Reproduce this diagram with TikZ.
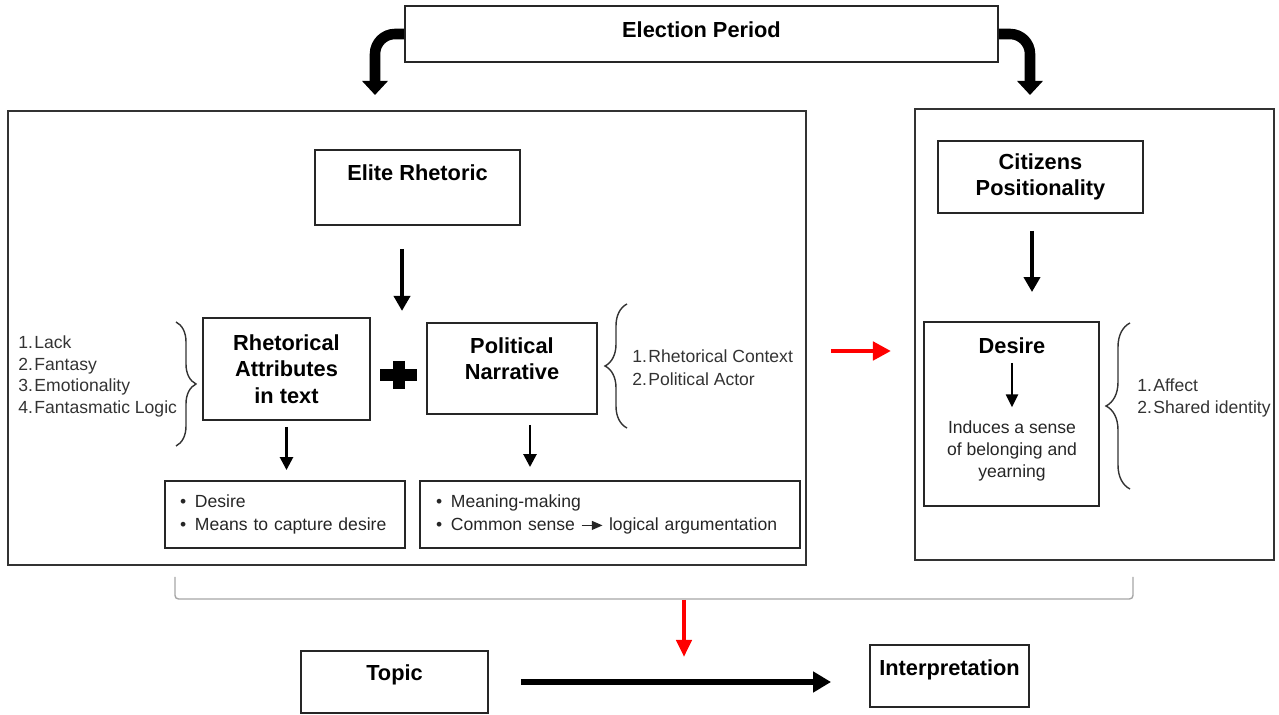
\documentclass[tikz,border=0pt]{standalone}
\usepackage{fontspec}
\setmainfont{Liberation Sans}
\usetikzlibrary{positioning, arrows.meta, decorations.pathreplacing}

\tikzset{
    box/.style={draw=black!85, line width=1.1pt, inner sep=0pt},
    frame/.style={draw=black!80, line width=1.2pt, inner sep=0pt},
    title/.style={font=\fontsize{12.4}{15}\selectfont\bfseries, align=center},
    body/.style={font=\fontsize{10}{12.3}\selectfont, text=black!80, inner sep=0pt},
    bigarr/.style={line width=2.6pt, -{Triangle[width=0.32cm, length=0.3cm]}},
    smallarr/.style={line width=1.5pt, -{Triangle[width=0.26cm, length=0.26cm]}},
    fatarr/.style={line width=6pt, rounded corners=0.4cm, -{Triangle[width=0.5cm, length=0.28cm]}},
    redarr/.style={red, line width=2.8pt, -{Triangle[width=0.36cm, length=0.36cm]}},
    curly/.style={decorate, decoration={brace, amplitude=#1}, line width=0.8pt, black!80},
}

\begin{document}
\begin{tikzpicture}[x=0.02cm, y=-0.02cm]
    \useasboundingbox (0,0) rectangle (1279,715);

    %% Frames
    \node[frame, minimum width=15.96cm, minimum height=9.08cm] (leftframe) at (407,338) {};
    \node[frame, minimum width=7.18cm, minimum height=9.02cm] (rightframe) at (1094.5,334.5) {};

    %% Top
    \node[box, title, minimum width=11.86cm, text height=0.64cm, text depth=0.48cm, anchor=base] (election) at (701.5,38) {Election Period};
    \coordinate (lefttip) at (375,95);
    \coordinate (righttip) at (1030,95);
    \draw[fatarr] (election.west) -| (lefttip);
    \draw[fatarr] (election.east) -| (righttip);

    %% Elite rhetoric side
    % Boxes
    \node[box, title, minimum width=4.1cm, text height=0.62cm, text depth=0.88cm, anchor=base] (elite) at (417.5,181) {Elite Rhetoric};
    \node[box, title, minimum width=3.34cm, minimum height=2.04cm] (rhet) at (286.5,369) {Rhetorical\\Attributes\\in text};
    \node[box, title, minimum width=3.4cm, text height=1.14cm, text depth=0.68cm, anchor=base] (polit) at (512,380) {Political\\Narrative};
    \node[box, font=\fontsize{10}{13.6}\selectfont, text=black!85, text width=4.2cm, inner xsep=0.3cm, minimum height=1.34cm, align=left] (leftbul) at (285,514.5)
        {\textbullet\hspace{5pt}Desire\\\textbullet\hspace{5pt}Means to capture desire};
    \node[box, font=\fontsize{10}{13.6}\selectfont, text=black!85, text width=6.96cm, inner xsep=0.32cm, minimum height=1.34cm, align=left] (rightbul) at (610,514.5)
        {\textbullet\hspace{5pt}Meaning-making\\\textbullet\hspace{5pt}Common sense \tikz[baseline=-0.6ex, x=1cm, y=1cm]\draw[line width=0.8pt, -{Triangle[width=5pt, length=6pt]}] (0,0) -- (0.42,0); logical argumentation};

    % Plus
    \draw[line width=0.24cm] (380,375) -- (417,375) (398.5,361) -- (398.5,389);

    % Lists
    \node[body, anchor=north west, align=left] (attrlist) at (18,335.5) {1.\kern0.8pt Lack\\2.\kern0.8pt Fantasy\\3.\kern0.8pt Emotionality\\4.\kern0.8pt Fantasmatic Logic};
    \node[body, font=\fontsize{10}{13}\selectfont, anchor=north west, align=left] (narrlist) at (632,349.5) {1.\kern0.8pt Rhetorical Context\\2.\kern0.8pt Political Actor};
    \draw[curly=0.4cm] (176,322) -- (176,446);
    \draw[curly=0.44cm] (627,428) -- (627,304);

    % Arrows
    \draw[bigarr] ([xshift=-0.31cm, yshift=-0.46cm]elite.south) -- ([xshift=-0.31cm, yshift=-1.7cm]elite.south);
    \draw[smallarr, shorten <=0.12cm, shorten >=0.2cm] (rhet.south) -- (rhet.south |- leftbul.north);
    \draw[smallarr, shorten <=0.2cm, shorten >=0.26cm] ([xshift=0.36cm]polit.south) -- ([xshift=0.36cm]polit.south |- rightbul.north);

    %% Citizens side
    \node[box, title, minimum width=4.1cm, minimum height=1.44cm] (citizens) at (1040.5,177) {Citizens\\Positionality};
    \node[box, minimum width=3.5cm, minimum height=3.68cm] (desire) at (1011.5,414) {};
    \node[title, inner sep=0pt] (desiretitle) at (1012,346) {Desire};
    \node[body, align=center, text=black!85] (desirebody) at (1012,451) {Induces a sense\\of belonging and\\yearning};
    \node[body, font=\fontsize{10}{12.5}\selectfont, anchor=north west, align=left] (affectlist) at (1137,378.5) {1.\kern0.8pt Affect\\2.\kern0.8pt Shared identity};
    \draw[curly=0.48cm] (1130,489) -- (1130,323);

    \draw[bigarr, shorten <=0.34cm, shorten >=0.58cm] ([xshift=-0.17cm]citizens.south) -- ([xshift=-0.17cm]citizens.south |- desire.north);
    \draw[line width=1.3pt, -{Triangle[width=0.24cm, length=0.26cm]}, shorten <=0.17cm, shorten >=0.27cm] (desiretitle) -- (desirebody);

    % Red link
    \draw[redarr, shorten <=0.48cm, shorten >=0.46cm] ([yshift=-0.26cm]leftframe.east) -- ([yshift=-0.26cm]leftframe.east -| rightframe.west);

    %% Bottom
    \draw[gray!70, line width=0.8pt, rounded corners=2pt] (175,577) |- (1133,599) -- (1133,577);
    \coordinate (brmid) at (684,600);
    \coordinate (redtip) at (684,657);
    \draw[redarr, line width=2.4pt, -{Triangle[width=0.3cm, length=0.34cm]}] (brmid) -- (redtip);

    \node[box, title, minimum width=3.74cm, text height=0.6cm, text depth=0.64cm, anchor=base] (topic) at (394.5,681) {Topic};
    \node[box, title, minimum width=3.18cm, text height=0.62cm, text depth=0.62cm, anchor=base] (interp) at (949.5,676) {Interpretation};
    \draw[line width=0.12cm, -{Triangle[width=0.4cm, length=0.36cm]}, shorten <=0.64cm, shorten >=0.76cm] (topic.east) -- (topic.east -| interp.west);
\end{tikzpicture}
\end{document}
